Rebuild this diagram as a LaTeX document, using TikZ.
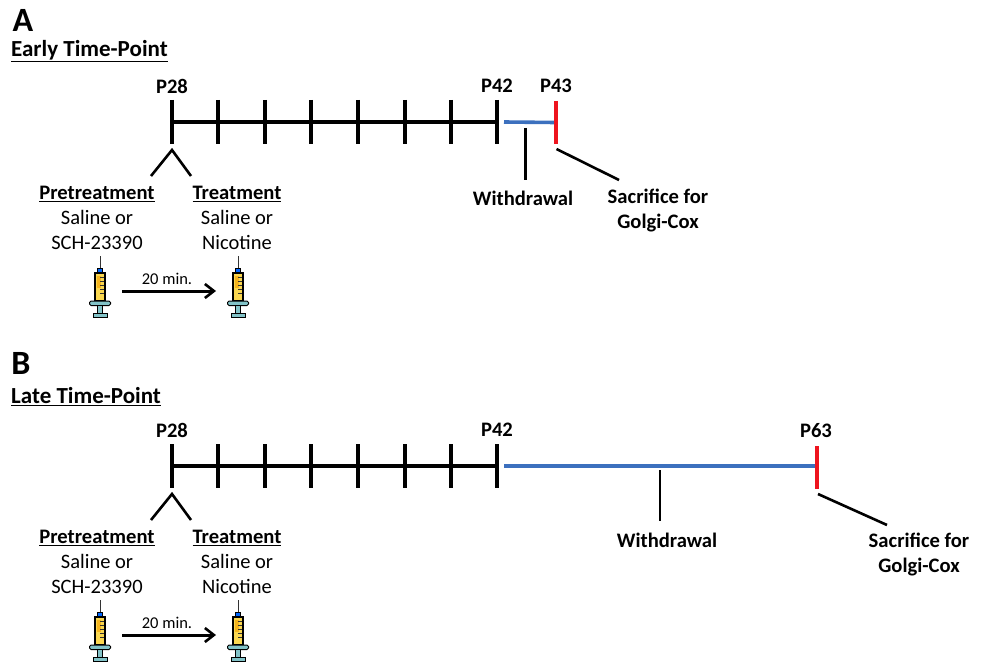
\documentclass[tikz,border=0pt]{standalone}
\usepackage{fontspec}
\setmainfont{Carlito}
\usetikzlibrary{arrows.meta}
\definecolor{syry}{RGB}{250,215,80}
\definecolor{syro}{RGB}{245,180,30}
\definecolor{syrt}{RGB}{130,195,200}
\tikzset{
  lbl/.style={inner sep=0pt,align=center,font=\fontsize{20.5}{25}\selectfont},
  blbl/.style={inner sep=0pt,align=center,font=\fontsize{20.6}{25}\selectfont\bfseries},
  head/.style={inner sep=0pt,anchor=west,font=\fontsize{23}{25}\selectfont\bfseries},
  panelletter/.style={inner sep=0pt,font=\fontsize{34}{34}\selectfont\bfseries},
  tl/.style={line width=3.3pt,black},
  thinl/.style={line width=2.6pt,black},
  bluel/.style={line width=3.6pt,color={rgb,255:red,60;green,112;blue,190}},
  redl/.style={line width=3.8pt,color={rgb,255:red,238;green,20;blue,30}},
  syringe/.pic={
    \draw[line width=1pt,black!80] (0,-35)--(0,-22);
    \fill[black] (-3,-23) rectangle (3,-17);
    \fill[blue!60!cyan] (-1.8,-22) rectangle (1.8,-18);
    \filldraw[draw=black,line width=1.4pt,fill=syry] (-5,-18) rectangle (5,10);
    \fill[syro] (-3.5,-15) rectangle (0.5,-3);
    \draw[line width=.8pt,black!80] (0,-14)--(3.5,-14) (0,-10)--(3.5,-10) (0,-6)--(3.5,-6) (0,-2)--(3.5,-2) (0,2)--(3.5,2);
    \filldraw[draw=black,line width=1pt,fill=syrt,rounded corners=1.5pt] (-10.5,10) rectangle (10.5,14.5);
    \filldraw[draw=black,line width=1pt,fill=syrt] (-2.5,14.5) rectangle (2.5,23);
    \filldraw[draw=black,line width=1pt,fill=syrt] (-7,22.5) rectangle (7,26);
  },
  common/.pic={
    \node[blbl] (p28) at (172,86) {P28};
    \node[blbl] (p42) at (497,86) {P42};
    \foreach \n/\x in {a/172,b/218,c/265,d/311,e/358,f/405,g/451,h/497}{
      \coordinate (t\n) at (\x,100);
      \coordinate (u\n) at (\x,144);
      \draw[tl] (t\n)--(u\n);
    }
    \coordinate (ma) at (172,122);
    \coordinate (mh) at (497,122);
    \draw[tl] (ma)--(mh);
    \coordinate (apex) at (172,150);
    \coordinate (la) at (151,176);
    \coordinate (ra) at (191,176);
    \draw[thinl,line join=miter] (la)--(apex)--(ra);
    \node[blbl] (pre) at (97,194) {\underline{Pretreatment}};
    \node[blbl] (tre) at (237,194) {\underline{Treatment}};
    \node[lbl] (pre2) at (97,230) {Saline or\\SCH-23390};
    \node[lbl] (tre2) at (237,230) {Saline or\\Nicotine};
    \path (100,291) pic {syringe};
    \path (238,291) pic {syringe};
    \coordinate (as) at (122,291);
    \coordinate (ae) at (216,291);
    \draw[line width=3pt,-{Straight Barb[length=9pt,width=14pt,line width=2.6pt]}] (as)--(ae);
    \node[inner sep=0pt,font=\fontsize{16.5}{18}\selectfont] (tm) at (167,279) {20 min.};
  }
}
\begin{document}
\begin{tikzpicture}[x=1pt,y=-1pt]
\useasboundingbox (0,0) rectangle (982,663);
\node[panelletter] (A) at (23,20) {A};
\node[head] (ha) at (11,51) {\underline{Early Time-Point}};
\path (0,0) pic (pa) {common};
\node[blbl] (p43) at (556,86) {P43};
\coordinate (b1) at (504,122);
\coordinate (b2) at (555,122.5);
\draw[bluel] (b1)--(b2);
\coordinate (r1) at (556,101);
\coordinate (r2) at (556,144);
\draw[redl] (r1)--(r2);
\coordinate (w1) at (525.5,128);
\coordinate (w2) at (525.5,180);
\draw[thinl] (w1)--(w2);
\node[blbl] (wa) at (523,198) {Withdrawal};
\coordinate (s1) at (556.5,149);
\coordinate (s2) at (619,180);
\draw[thinl] (s1)--(s2);
\node[blbl] (sa) at (658,210.5) {Sacrifice for\\Golgi-Cox};

\node[panelletter] (B) at (21,363) {B};
\node[head] (hb) at (11,397) {\underline{Late Time-Point}};
\path (0,344) pic (pb) {common};
\node[blbl] (p63) at (816,431) {P63};
\coordinate (bb1) at (504,466);
\coordinate (bb2) at (816,466);
\draw[bluel] (bb1)--(bb2);
\coordinate (rb1) at (817,446);
\coordinate (rb2) at (817,489);
\draw[redl] (rb1)--(rb2);
\coordinate (wb1) at (660,470);
\coordinate (wb2) at (660,521);
\draw[thinl] (wb1)--(wb2);
\node[blbl] (wb) at (667,540) {Withdrawal};
\coordinate (sb1) at (818,494);
\coordinate (sb2) at (887,525);
\draw[thinl] (sb1)--(sb2);
\node[blbl] (sbt) at (919,554) {Sacrifice for\\Golgi-Cox};
\end{tikzpicture}
\end{document}
